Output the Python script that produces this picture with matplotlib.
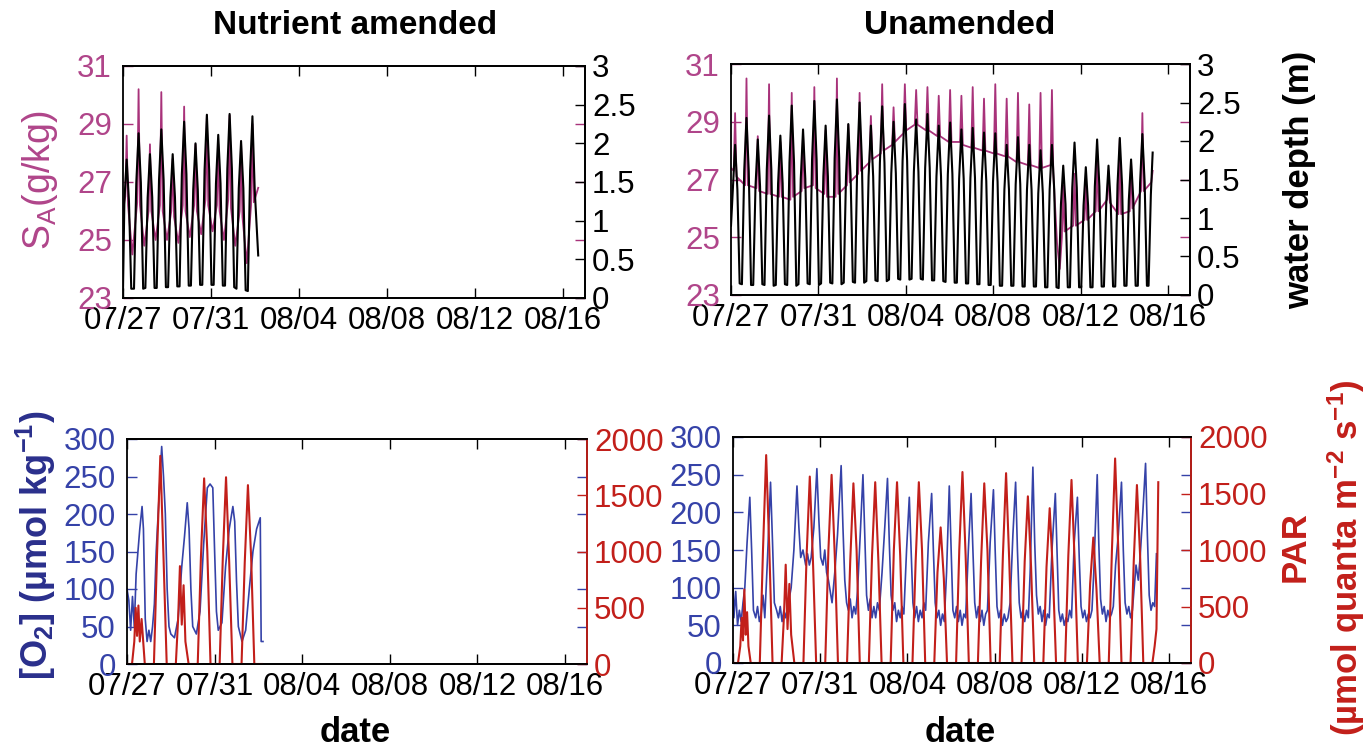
import numpy as np
import pandas as pd
import matplotlib
matplotlib.use('Agg')
import matplotlib.pyplot as plt

plt.rcParams['font.family'] = ['Liberation Sans', 'DejaVu Sans']
plt.rcParams['mathtext.default'] = 'regular'

# ---------------- data (hours since 07/27 00:00) ----------------
START = '2012-07-27'
date_tick_labels = ['07/27', '07/31', '08/04', '08/08', '08/12', '08/16']
x_span_days = 21

sal_ticks = [23, 25, 27, 29, 31]
depth_ticks = [0, 0.5, 1, 1.5, 2, 2.5, 3]
depth_tick_labels = ['0', '0.5', '1', '1.5', '2', '2.5', '3']
o2_ticks = [0, 50, 100, 150, 200, 250, 300]
par_ticks = [0, 500, 1000, 1500, 2000]

# Nutrient amended: water depth (m)
tl_depth_h = [0, 1.5, 4.0, 6.5, 9.0,
              12.0, 14.5, 17.0, 19.5, 22.0,
              24.4, 26.9, 29.4, 31.9, 34.4,
              36.8, 39.3, 41.8, 44.3, 46.8,
              49.2, 51.7, 54.2, 56.7, 59.2,
              61.7, 64.2, 66.7, 69.2, 71.7,
              74.1, 76.6, 79.1, 81.6, 84.1,
              86.5, 89.0, 91.5, 94.0, 96.5,
              98.9, 101.4, 103.9, 106.4, 108.9,
              111.3, 113.8, 116.3, 118.8, 121.3,
              123.8, 126.3, 128.8, 131.3, 133.8,
              136.2, 138.7, 141.2, 143.7, 147.5]
tl_depth_v = [0.10, 1.25, 1.79, 1.25, 0.12,
              0.12, 1.49, 2.13, 1.49, 0.12,
              0.13, 1.30, 1.86, 1.30, 0.13,
              0.13, 1.53, 2.18, 1.53, 0.14,
              0.14, 1.30, 1.86, 1.30, 0.15,
              0.15, 1.60, 2.28, 1.60, 0.16,
              0.16, 1.40, 2.00, 1.40, 0.17,
              0.17, 1.66, 2.37, 1.66, 0.17,
              0.17, 1.48, 2.11, 1.48, 0.16,
              0.16, 1.67, 2.38, 1.67, 0.14,
              0.12, 1.42, 2.03, 1.42, 0.10,
              0.09, 1.65, 2.35, 1.40, 0.55]

# Nutrient amended: salinity S_A (g/kg)
tl_sal_h = [0, 2.5, 4.0, 5.5, 10.2, 15.5, 17.0, 18.5, 23.2, 27.9, 29.4, 30.9, 35.6,
            40.3, 41.8, 43.3, 48.0, 52.7, 54.2, 55.7, 60.4, 65.2, 66.7, 68.2, 72.9,
            77.6, 79.1, 80.6, 85.3, 90.0, 91.5, 93.0, 97.7, 102.4, 103.9, 105.4, 110.1,
            114.8, 116.3, 117.8, 122.5, 127.3, 128.8, 130.3, 135.0, 139.7, 141.2, 142.7, 147.5]
tl_sal_v = [26.0, 26.5, 28.6, 26.2, 24.5, 26.3, 30.2, 26.2, 24.8, 26.0, 28.3, 26.0, 25.0,
            26.2, 30.1, 26.0, 25.0, 26.0, 27.8, 25.8, 24.9, 26.2, 29.6, 26.0, 25.1,
            26.2, 28.3, 26.0, 25.2, 26.4, 29.3, 26.2, 25.3, 26.2, 28.3, 26.0, 25.0,
            26.4, 29.3, 26.1, 24.8, 26.0, 28.4, 25.8, 24.2, 26.2, 29.0, 26.3, 26.8]

# Unamended: water depth (m)
tr_depth_h = [0, 2.0, 4.5, 7.0, 9.5,
              12.0, 14.5, 17.0, 19.5, 22.0,
              24.4, 26.9, 29.4, 31.9, 34.4,
              36.8, 39.3, 41.8, 44.3, 46.8,
              49.2, 51.7, 54.2, 56.7, 59.2,
              61.7, 64.2, 66.7, 69.2, 71.7,
              74.1, 76.6, 79.1, 81.6, 84.1,
              86.5, 89.0, 91.5, 94.0, 96.5,
              98.9, 101.4, 103.9, 106.4, 108.9,
              111.3, 113.8, 116.3, 118.8, 121.3,
              123.8, 126.3, 128.8, 131.3, 133.8,
              136.2, 138.7, 141.2, 143.7, 146.2,
              148.6, 151.1, 153.6, 156.1, 158.6,
              161.0, 163.5, 166.0, 168.5, 171.0,
              173.5, 176.0, 178.5, 181.0, 183.5,
              185.9, 188.4, 190.9, 193.4, 195.9,
              198.3, 200.8, 203.3, 205.8, 208.3,
              210.7, 213.2, 215.7, 218.2, 220.7,
              223.1, 225.6, 228.1, 230.6, 233.1,
              235.6, 238.1, 240.6, 243.1, 245.6,
              248.0, 250.5, 253.0, 255.5, 258.0,
              260.4, 262.9, 265.4, 267.9, 270.4,
              272.8, 275.3, 277.8, 280.3, 282.8,
              285.2, 287.7, 290.2, 292.7, 295.2,
              297.7, 300.2, 302.7, 305.2, 307.7,
              310.1, 312.6, 315.1, 317.6, 320.1,
              322.5, 325.0, 327.5, 330.0, 332.5,
              334.9, 337.4, 339.9, 342.4, 344.9,
              347.4, 349.9, 352.4, 354.9, 357.4,
              359.8, 362.3, 364.8, 367.3, 369.8,
              372.2, 374.7, 377.2, 379.7, 382.2,
              384.6, 387.1, 389.6, 392.1, 394.6,
              397.0, 399.5, 402.0, 404.5, 407.0,
              409.5, 412.0, 414.5, 417.0, 419.5,
              421.9, 424.4, 426.9, 429.4, 431.9,
              434.3, 436.8, 439.3, 441.8, 444.3,
              446.7, 449.2, 451.7, 454.2, 456.7,
              458.5, 461.0, 463.0]
tr_depth_v = [0.90, 1.37, 1.95, 1.37, 0.15,
              0.14, 1.61, 2.30, 1.61, 0.13,
              0.13, 1.41, 2.02, 1.41, 0.14,
              0.13, 1.63, 2.33, 1.63, 0.12,
              0.13, 1.45, 2.07, 1.45, 0.14,
              0.13, 1.72, 2.46, 1.72, 0.12,
              0.14, 1.51, 2.15, 1.51, 0.15,
              0.14, 1.76, 2.52, 1.76, 0.13,
              0.15, 1.54, 2.20, 1.54, 0.16,
              0.15, 1.78, 2.54, 1.78, 0.14,
              0.16, 1.55, 2.22, 1.55, 0.17,
              0.16, 1.75, 2.50, 1.75, 0.16,
              0.18, 1.54, 2.20, 1.54, 0.19,
              0.18, 1.72, 2.45, 1.72, 0.18,
              0.20, 1.58, 2.25, 1.58, 0.21,
              0.20, 1.74, 2.48, 1.74, 0.20,
              0.21, 1.60, 2.28, 1.60, 0.21,
              0.20, 1.65, 2.35, 1.65, 0.19,
              0.19, 1.54, 2.20, 1.54, 0.18,
              0.17, 1.57, 2.24, 1.57, 0.16,
              0.16, 1.51, 2.15, 1.51, 0.15,
              0.15, 1.52, 2.17, 1.52, 0.14,
              0.14, 1.48, 2.11, 1.48, 0.13,
              0.13, 1.47, 2.10, 1.47, 0.12,
              0.12, 1.37, 1.95, 1.37, 0.12,
              0.12, 1.44, 2.05, 1.44, 0.11,
              0.11, 1.37, 1.95, 1.37, 0.11,
              0.11, 1.32, 1.88, 1.32, 0.10,
              0.10, 1.37, 1.95, 1.37, 0.10,
              0.09, 1.18, 1.68, 1.18, 0.10,
              0.10, 1.39, 1.98, 1.39, 0.10,
              0.10, 1.16, 1.66, 1.16, 0.10,
              0.10, 1.41, 2.02, 1.41, 0.11,
              0.11, 1.18, 1.68, 1.18, 0.11,
              0.11, 1.43, 2.04, 1.43, 0.12,
              0.12, 1.23, 1.76, 1.23, 0.12,
              0.12, 1.46, 2.09, 1.46, 0.12,
              0.12, 1.30, 1.85]

# Unamended: salinity S_A (g/kg)
tr_sal_h = [0, 3.0, 4.5, 6.0, 15.5, 17.0, 18.5, 27.9, 29.4, 30.9, 40.3, 41.8, 43.3,
            52.7, 54.2, 55.7, 65.2, 66.7, 68.2, 77.6, 79.1, 80.6, 90.0, 91.5, 93.0,
            102.4, 103.9, 105.4, 114.8, 116.3, 117.8, 127.3, 128.8, 130.3,
            139.7, 141.2, 142.7, 152.1, 153.6, 155.1, 164.5, 166.0, 167.5,
            177.0, 178.5, 180.0, 189.4, 190.9, 192.4, 201.8, 203.3, 204.8,
            214.2, 215.7, 217.2, 226.6, 228.1, 229.6, 239.1, 240.6, 242.1,
            251.5, 253.0, 254.5, 263.9, 265.4, 266.9, 276.3, 277.8, 279.3,
            288.7, 290.2, 291.7, 301.2, 302.7, 304.2, 313.6, 315.1, 316.6,
            326.0, 327.5, 329.0, 338.4, 339.9, 341.4, 350.9, 352.4, 353.9,
            356.0, 358.0, 361.0, 363.3, 364.8, 366.3,
            375.7, 377.2, 378.7, 388.1, 389.6, 391.1, 400.5, 402.0, 403.5,
            413.0, 414.5, 416.0, 425.4, 426.9, 428.4, 437.8, 439.3, 440.8,
            450.2, 451.7, 453.2, 461.5, 463.0]
tr_sal_v = [27.4, 27.3, 29.3, 27.1, 26.8, 30.5, 26.8, 26.7, 28.5, 26.6, 26.5, 30.3, 26.5,
            26.4, 28.3, 26.4, 26.3, 30.0, 26.4, 26.6, 28.6, 26.7, 26.8, 30.2, 26.7,
            26.5, 28.7, 26.4, 26.4, 30.5, 26.5, 26.8, 28.9, 26.9,
            27.2, 30.0, 27.3, 27.6, 29.2, 27.7, 27.9, 30.3, 28.0,
            28.2, 29.5, 28.3, 28.6, 30.3, 28.7, 28.9, 30.1, 28.9,
            28.7, 30.2, 28.7, 28.5, 29.9, 28.5, 28.3, 30.1, 28.3,
            28.3, 29.9, 28.2, 28.1, 30.2, 28.1, 28.0, 29.8, 28.0,
            27.9, 30.3, 27.9, 27.8, 29.8, 27.8, 27.6, 30.0, 27.6,
            27.5, 29.6, 27.5, 27.4, 30.0, 27.4, 27.5, 30.1, 27.2,
            26.0, 24.8, 23.9, 25.0, 26.8, 25.2,
            25.4, 27.2, 25.4, 25.6, 26.8, 25.6, 25.9, 27.9, 25.9,
            26.3, 27.3, 26.2, 25.8, 28.4, 25.8, 25.9, 27.6, 26.0,
            26.6, 29.3, 26.6, 26.9, 27.3]

# Nutrient amended: O2 (umol/kg) and PAR
bl_o2_h = [0, 2, 4, 6, 8, 10, 12, 14, 16.5, 18, 20, 22, 24, 26, 28, 30, 32, 35, 38, 40,
           42, 44, 46, 48, 52, 56, 60, 63, 66, 68, 70, 72, 76, 80, 84, 88, 91, 94, 96, 98,
           100, 104, 108, 112, 116, 118, 120, 122, 126, 130, 134, 138, 142, 146, 147, 149]
bl_o2_v = [100, 85, 45, 90, 50, 120, 150, 180, 210, 180, 60, 30, 45, 30, 50, 80, 150, 220, 290, 250,
           200, 100, 50, 40, 35, 60, 130, 170, 215, 180, 100, 50, 40, 70, 160, 235, 240, 235, 150, 70,
           45, 55, 130, 180, 210, 190, 110, 50, 30, 45, 100, 150, 180, 195, 30, 30]
bl_par_h = [0, 5.5, 8, 9.5, 11, 12.5, 14, 16, 19.5, 29.5, 33, 36.5, 40, 43.5,
            53.5, 56, 58, 60, 62, 64, 67.5, 77.5, 81, 84.5, 88, 91.5,
            101.5, 105, 108.5, 112, 115.5, 125.5, 129, 132.5, 136, 139.5, 148]
bl_par_v = [0, 0, 200, 500, 250, 520, 200, 400, 0, 0, 1000, 1850, 950, 0,
            0, 400, 870, 350, 700, 200, 0, 0, 950, 1650, 1000, 0,
            0, 950, 1660, 900, 0, 0, 900, 1590, 950, 0, 0]

# Unamended: O2 (umol/kg) and PAR
br_o2_h = [0, 1, 3, 5, 7, 9, 11, 13, 15.5, 18.5, 20.5, 22.5,
           25, 27, 29, 31, 33, 35, 38, 41.3, 43.5, 45.5,
           48, 50, 52, 54, 56, 58, 61, 64, 67, 70.4, 72.5, 74.5,
           77, 80, 82, 84, 86, 89, 92.3, 94.5, 96.5,
           99, 101, 103, 105, 107, 109, 112, 115, 119, 121, 123,
           125, 127, 129, 131, 133, 135, 137, 140, 143, 145, 147,
           149, 151, 153, 155, 157, 159, 161, 164, 167, 170, 172, 174,
           176, 178, 180, 182, 184, 186, 188, 191, 194, 196, 198,
           200, 202, 204, 206, 208, 210, 212, 215, 218.6, 220.5, 222.5,
           224.5, 226.5, 228.5, 230.5, 232.5, 235, 238, 240, 242,
           244, 246, 248, 250, 252, 254, 256, 259, 262, 264, 266,
           268, 270, 272, 274, 276, 278, 280, 283, 286.6, 288.5, 290.5,
           292.5, 294.5, 296.5, 298.5, 300.5, 302.5, 305, 308, 311, 313, 315,
           317, 319, 321, 323, 325, 327, 330, 332, 334,
           336, 338, 340, 342, 344, 346, 348, 351, 354.7, 356.5, 358.5,
           360.5, 362.5, 364.5, 366.5, 368.5, 370.5, 372.5, 375.5, 379, 381, 383,
           385, 387, 389, 391, 393, 395, 397, 400.8, 402.5, 404.5,
           406.5, 408.5, 410.5, 412.5, 414.5, 416.5, 418.5, 421, 424, 427.5, 429.5, 431.5,
           433.5, 435.5, 437.5, 439.5, 441.5, 443.5, 446, 448, 451, 454, 456, 458,
           460, 462, 464, 466]
br_o2_v = [105, 60, 95, 50, 70, 55, 80, 100, 160, 220, 150, 70,
           60, 75, 55, 65, 90, 60, 140, 240, 160, 80,
           70, 60, 75, 55, 70, 60, 80, 100, 150, 235, 180, 140,
           150, 130, 145, 130, 140, 180, 258, 190, 140,
           130, 150, 120, 110, 95, 80, 120, 170, 262, 180, 110,
           80, 70, 85, 60, 75, 65, 95, 170, 250, 170, 90,
           70, 85, 60, 75, 60, 80, 70, 120, 180, 245, 160, 90,
           70, 80, 55, 70, 60, 75, 65, 150, 220, 150, 80,
           60, 75, 55, 70, 60, 80, 70, 160, 225, 150, 80,
           60, 70, 50, 65, 55, 120, 235, 150, 70,
           60, 75, 55, 70, 50, 65, 60, 150, 225, 150, 80,
           60, 75, 55, 70, 50, 65, 70, 160, 230, 150, 75,
           60, 70, 50, 65, 55, 60, 80, 170, 240, 150, 80,
           60, 70, 55, 70, 60, 120, 260, 160, 90,
           65, 75, 55, 70, 50, 65, 60, 150, 225, 150, 70,
           55, 65, 50, 60, 55, 70, 60, 160, 220, 140, 75,
           60, 70, 55, 65, 60, 70, 120, 250, 160, 85,
           65, 75, 55, 70, 60, 65, 75, 130, 170, 240, 150, 80,
           65, 75, 60, 70, 100, 130, 110, 140, 200, 265, 170, 90,
           70, 80, 75, 145]
br_par_h = [0, 5.5, 8, 9.5, 11, 12.5, 14, 15.5, 17, 19.5,
            29.5, 33, 36.5, 40, 43.5,
            53.5, 56, 58, 60, 62, 64, 67.5,
            77.5, 81, 84.5, 88, 91.5, 101.5, 105, 108.5, 112, 115.5,
            125.5, 129, 132.5, 136, 139.5, 149.5, 153, 156.5, 160, 163.5,
            173.5, 177, 180.5, 184, 187.5, 197.5, 201, 204.5, 208, 211.5,
            221.5, 225, 228.5, 232, 235.5, 245.5, 249, 252.5, 256, 259.5,
            269.5, 273, 276.5, 280, 283.5, 293.5, 297, 300.5, 304, 307.5,
            317.5, 321, 324.5, 328, 331.5, 341.5, 345, 348.5, 352, 355.5,
            365.5, 369, 372.5, 376, 379.5, 389.5, 393, 396.5, 400, 403.5,
            413.5, 417, 420.5, 424, 427.5, 437.5, 441, 444.5, 448, 451.5,
            461.5, 464, 466, 468]
br_par_v = [0, 0, 150, 400, 200, 650, 250, 450, 150, 0,
            0, 1000, 1840, 1000, 0,
            0, 400, 870, 300, 700, 250, 0,
            0, 950, 1650, 900, 0, 0, 1000, 1665, 950, 0,
            0, 900, 1590, 1000, 0, 0, 950, 1600, 900, 0,
            0, 1000, 1600, 950, 0, 0, 900, 1600, 1000, 0,
            0, 800, 1200, 750, 0, 0, 1000, 1690, 950, 0,
            0, 900, 1590, 1000, 0, 0, 950, 1680, 900, 0,
            0, 900, 1475, 850, 0, 0, 850, 1370, 800, 0,
            0, 950, 1620, 900, 0, 0, 700, 1110, 650, 0,
            0, 1000, 1810, 1000, 0, 0, 900, 1575, 950, 0,
            0, 150, 300, 1600]

# ---------------- styling ----------------
MAG = '#a8327a'
MAG_T = '#b0458a'
NAVY = '#2a2f8c'
BLUE = '#3542a8'
RED = '#c21f1a'
W, H = 1370, 754
TICK_FS = 22.5

t0 = pd.Timestamp(START)
def to_dates(hours):
    return (t0 + pd.to_timedelta(np.asarray(hours, dtype=float), unit='h')).to_numpy()

tick_dates = pd.to_datetime([START[:4] + '/' + s for s in date_tick_labels]).to_numpy()
xlim = (t0.to_datetime64(), (t0 + pd.Timedelta(days=x_span_days)).to_datetime64())

fig = plt.figure(figsize=(W / 100, H / 100), dpi=100)

def px_axes(x0, y0, x1, y1):
    return fig.add_axes([x0 / W, 1 - y1 / H, (x1 - x0) / W, (y1 - y0) / H])

def panel(box, lh, lv, lcol, rh, rv, rcol, lylim, lticks, lticklabels, lcolT,
          rylim, rticks, rticklabels, rcolT, rspine, lwl, lwr):
    axl = px_axes(*box)
    axr = axl.twinx()
    axl.plot(to_dates(lh), lv, color=lcol, lw=lwl)
    axr.plot(to_dates(rh), rv, color=rcol, lw=lwr)
    axl.set_xlim(*xlim)
    axl.set_xticks(tick_dates)
    axl.set_xticklabels(date_tick_labels)
    axl.set_ylim(*lylim)
    axl.set_yticks(lticks)
    axl.set_yticklabels(lticklabels)
    axr.set_ylim(*rylim)
    axr.set_yticks(rticks)
    axr.set_yticklabels(rticklabels)
    axl.tick_params(axis='x', direction='in', length=7, width=1, top=True,
                    labelsize=TICK_FS, pad=6, colors='black')
    axl.tick_params(axis='y', direction='in', length=7, width=1, left=True, right=True,
                    labelright=False, labelsize=TICK_FS, pad=8, color=lcol, labelcolor=lcolT)
    axr.tick_params(axis='y', direction='in', length=7, width=1, labelsize=TICK_FS,
                    pad=5, color=rcol, labelcolor=rcolT)
    for ax in (axl, axr):
        for s in ax.spines.values():
            s.set_linewidth(1.3)
            s.set_color('black')
    axr.spines['right'].set_color(rspine)
    axr.spines['left'].set_visible(False)
    return axl, axr

sal_lbl = [str(v) for v in sal_ticks]
o2_lbl = [str(v) for v in o2_ticks]
par_lbl = [str(v) for v in par_ticks]

panel((123, 66, 585, 298), tl_sal_h, tl_sal_v, MAG, tl_depth_h, tl_depth_v, 'black',
      (23, 31), sal_ticks, sal_lbl, MAG_T, (0, 3), depth_ticks, depth_tick_labels, 'black',
      'black', 1.3, 1.5)
panel((731, 64, 1190, 295), tr_sal_h, tr_sal_v, MAG, tr_depth_h, tr_depth_v, 'black',
      (23, 31), sal_ticks, sal_lbl, MAG_T, (0, 3), depth_ticks, depth_tick_labels, 'black',
      'black', 1.3, 1.5)
panel((127, 439, 587, 664), bl_o2_h, bl_o2_v, BLUE, bl_par_h, bl_par_v, RED,
      (0, 300), o2_ticks, o2_lbl, BLUE, (0, 2000), par_ticks, par_lbl, RED,
      RED, 1.2, 1.5)
panel((733, 437, 1191, 663), br_o2_h, br_o2_v, BLUE, br_par_h, br_par_v, RED,
      (0, 300), o2_ticks, o2_lbl, BLUE, (0, 2000), par_ticks, par_lbl, RED,
      RED, 1.2, 1.5)

def ftext(x, y, s, **kw):
    fig.text(x / W, 1 - y / H, s, ha='center', va='center', **kw)

ftext(355, 25, 'Nutrient amended', fontsize=24, weight='bold')
ftext(960, 25, 'Unamended', fontsize=24, weight='bold')
ftext(40, 180, 'S$_A$(g/kg)', fontsize=27, color=MAG_T, rotation=90)
ftext(1300, 180, 'water depth (m)', fontsize=25, weight='bold', rotation=90)
ftext(36, 545, '[O$_2$] (µmol kg$^{-1}$)', fontsize=26, weight='bold', color=NAVY, rotation=90)
ftext(1295, 547, 'PAR', fontsize=25, weight='bold', color=RED, rotation=90)
ftext(1346, 558, '(µmol quanta m$^{-2}$ s$^{-1}$)', fontsize=25, weight='bold', color=RED, rotation=90)
ftext(355, 732, 'date', fontsize=25, weight='bold')
ftext(960, 732, 'date', fontsize=25, weight='bold')

fig.savefig('out.png', dpi=100)
